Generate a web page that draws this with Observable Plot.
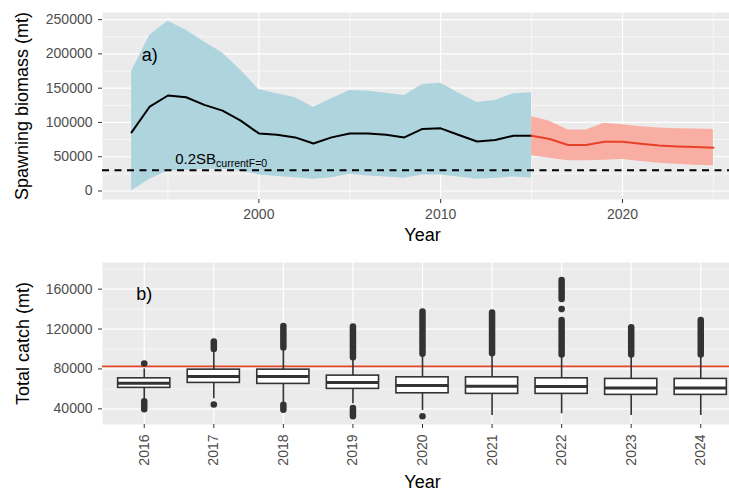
<!DOCTYPE html>
<html><head><meta charset="utf-8">
<script src="https://cdn.jsdelivr.net/npm/d3@7"></script>
<script src="https://cdn.jsdelivr.net/npm/@observablehq/plot@0.6"></script>
<style>
body{margin:0;background:#fff;width:729px;height:493px;overflow:hidden;font-family:"Liberation Sans",Arial,sans-serif}
svg{display:block}
</style>
</head><body><div id="a"></div><div id="b"></div>
<script>
// ---------- Panel a data ----------
const histYears = [1993,1994,1995,1996,1997,1998,1999,2000,2001,2002,2003,2004,2005,2006,2007,2008,2009,2010,2011,2012,2013,2014,2015];
const histMean  = [85500,123200,139300,136800,125700,117300,102600,84000,82100,78200,69400,78200,84000,84000,82100,78200,90500,91400,81700,72300,74300,80600,80600];
const histUpper = [174500,227300,247800,234600,217500,201300,176000,148100,141800,135900,122200,134400,146600,145600,142700,139300,155400,157300,142700,129000,132000,141800,143200];
const histLower = [0,17100,29300,30300,31800,31800,29300,23500,21000,19500,17100,19500,24500,22000,20500,18600,23500,23500,20500,17100,18600,20500,19000];
const projYears = [2015,2016,2017,2018,2019,2020,2021,2022,2023,2024,2025];
const projMean  = [80600,75800,67000,67000,71800,71800,68900,66400,65000,64100,63000];
const projUpper = [108500,101600,89000,89000,98700,96800,93800,91900,90900,90500,89900];
const projLower = [51300,47900,44000,44000,45000,45900,43000,40600,39100,37700,36700];
const refBiomass = 30300;
const aYTicks = [0,50000,100000,150000,200000,250000];
const aYMinor = [25000,75000,125000,175000,225000];
const aXTicks = [2000,2010,2020];
const aXMinor = [1995,2005,2015,2025];
const aLabels = ["a)"], aLabelX = [1994], aLabelY = [198000];
const sbMain = "0.2SB", sbSub = "currentF=0", sbX = 1995.4, sbY = 47000;

// ---------- Panel b data ----------
const boxYears = [2016,2017,2018,2019,2020,2021,2022,2023,2024];
const boxQ3    = [70600,79300,79300,73300,71600,71600,70600,70000,70000];
const boxMed   = [65600,72300,72300,66300,63300,62600,62300,61000,61000];
const boxQ1    = [61000,66000,65000,60000,55600,55000,55000,54000,54000];
const whiskHi  = [80000,98000,100000,90000,93000,94000,92000,92000,92000];
const whiskLo  = [50000,50000,46000,45000,38300,33300,35000,33300,33300];
const outRangeYear = [2016,2017,2018,2018,2019,2019,2020,2021,2022,2022,2023,2024];
const outRangeLo   = [39000,99600,38600,101000,32000,91300,94600,95300,94000,149600,94000,94000];
const outRangeHi   = [47000,107000,43600,122600,40300,122000,137000,136000,128600,168600,121300,128600];
const outDotYear   = [2016,2017,2020,2022];
const outDotValue  = [85500,44300,32600,140000];
const catchRef = 82600;
const bYTicks = [40000,80000,120000,160000];
const bYMinor = [60000,100000,140000,180000];
const bLabels = ["b)"], bLabelX = [2016], bLabelY = [155000];

// ---------- build ----------
const fmt = d3.format("d");
const font = '"Liberation Sans",Arial,sans-serif';
const hist = histYears.map((year,i)=>({year, mean:histMean[i], lo:histLower[i], hi:histUpper[i]}));
const proj = projYears.map((year,i)=>({year, mean:projMean[i], lo:projLower[i], hi:projUpper[i]}));
const annA = aLabels.map((label,i)=>({label, x:aLabelX[i], y:aLabelY[i]}));
const sbAnn = [{label:sbMain, x:sbX, y:sbY}];

const A = Plot.plot({
  width:729, height:250, marginTop:12, marginBottom:51, marginLeft:102, marginRight:-13,
  x:{domain:[1991.4,2026.6], label:null},
  y:{domain:[-12400,260400], label:null},
  style:{fontFamily:font, color:"#4d4d4d", background:"transparent"},
  marks:[
    Plot.frame({fill:"#ebebeb"}),
    Plot.ruleY(aYMinor,{stroke:"#fff", strokeWidth:0.6}),
    Plot.ruleX(aXMinor,{stroke:"#fff", strokeWidth:0.6}),
    Plot.ruleY(aYTicks,{stroke:"#fff", strokeWidth:1.2}),
    Plot.ruleX(aXTicks,{stroke:"#fff", strokeWidth:1.2}),
    Plot.areaY(hist,{x:"year", y1:"lo", y2:"hi", fill:"#aed4de"}),
    Plot.areaY(proj,{x:"year", y1:"lo", y2:"hi", fill:"#f8aea2"}),
    Plot.ruleY([refBiomass],{stroke:"#000", strokeWidth:1.8, strokeDasharray:"7,5.5"}),
    Plot.lineY(hist,{x:"year", y:"mean", stroke:"#000", strokeWidth:2}),
    Plot.lineY(proj,{x:"year", y:"mean", stroke:"#e8412a", strokeWidth:2}),
    Plot.axisY(aYTicks,{tickSize:4, tickPadding:6, fontSize:14, tickFormat:fmt, label:null, stroke:"#333"}),
    Plot.axisX(aXTicks,{tickSize:4, tickPadding:6, fontSize:14, tickFormat:fmt, label:null, stroke:"#333"}),
    Plot.text(annA,{x:"x", y:"y", text:"label", fontSize:18, fill:"#000"}),
    Plot.text(sbAnn,{x:"x", y:"y", text:"label", textAnchor:"start", fontSize:15, fill:"#000"}),
    Plot.text(["Spawning biomass (mt)"],{text:d=>d, frameAnchor:"left", textAnchor:"middle", dx:-80, rotate:-90, fontSize:18, fill:"#000"}),
    Plot.text(["Year"],{text:d=>d, frameAnchor:"bottom", dy:41, fontSize:18, fill:"#000"})
  ]
});
A.querySelectorAll("text").forEach(t=>{
  if (t.textContent === sbMain) {
    const ts = document.createElementNS("http://www.w3.org/2000/svg","tspan");
    ts.setAttribute("dy","3");
    ts.setAttribute("font-size","10.5");
    ts.textContent = sbSub;
    t.appendChild(ts);
  }
});
document.getElementById("a").appendChild(A);

const boxes = boxYears.map((year,i)=>({year, q1:boxQ1[i], med:boxMed[i], q3:boxQ3[i], wlo:whiskLo[i], whi:whiskHi[i]}));
const outs = outRangeYear.map((year,i)=>({year, lo:outRangeLo[i], hi:outRangeHi[i]}));
const dots = outDotYear.map((year,i)=>({year, value:outDotValue[i]}));
const annB = bLabels.map((label,i)=>({label, x:bLabelX[i], y:bLabelY[i]}));
const hw = 0.375;

const B = Plot.plot({
  width:729, height:243, marginTop:12, marginBottom:69, marginLeft:102, marginRight:-13,
  x:{domain:[2015.4,2024.6], label:null},
  y:{domain:[24300,186700], label:null},
  style:{fontFamily:font, color:"#4d4d4d", background:"transparent"},
  marks:[
    Plot.frame({fill:"#ebebeb"}),
    Plot.ruleY(bYMinor,{stroke:"#fff", strokeWidth:0.6}),
    Plot.ruleY(bYTicks,{stroke:"#fff", strokeWidth:1.2}),
    Plot.ruleX(boxYears,{stroke:"#fff", strokeWidth:1.2}),
    Plot.ruleY([catchRef],{stroke:"#e8472b", strokeWidth:1.6}),
    Plot.ruleX(boxes,{x:"year", y1:"wlo", y2:"whi", stroke:"#333", strokeWidth:1.6}),
    Plot.ruleX(outs,{x:"year", y1:"lo", y2:"hi", stroke:"#333", strokeWidth:6.5, strokeLinecap:"round"}),
    Plot.dot(dots,{x:"year", y:"value", r:3.3, fill:"#333", stroke:null}),
    Plot.rect(boxes,{x1:d=>d.year-hw, x2:d=>d.year+hw, y1:"q1", y2:"q3", fill:"#fff", stroke:"#333", strokeWidth:1.6}),
    Plot.ruleY(boxes,{x1:d=>d.year-hw, x2:d=>d.year+hw, y:"med", stroke:"#333", strokeWidth:3}),
    Plot.axisY(bYTicks,{tickSize:4, tickPadding:6, fontSize:14, tickFormat:fmt, label:null, stroke:"#333"}),
    Plot.axisX(boxYears,{tickSize:4, tickPadding:6, tickRotate:-90, fontSize:14, tickFormat:fmt, label:null, stroke:"#333"}),
    Plot.text(annB,{x:"x", y:"y", text:"label", fontSize:18, fill:"#000"}),
    Plot.text(["Total catch (mt)"],{text:d=>d, frameAnchor:"left", textAnchor:"middle", dx:-79, rotate:-90, fontSize:18, fill:"#000"}),
    Plot.text(["Year"],{text:d=>d, frameAnchor:"bottom", dy:63, fontSize:18, fill:"#000"})
  ]
});
document.getElementById("b").appendChild(B);
</script></body></html>
